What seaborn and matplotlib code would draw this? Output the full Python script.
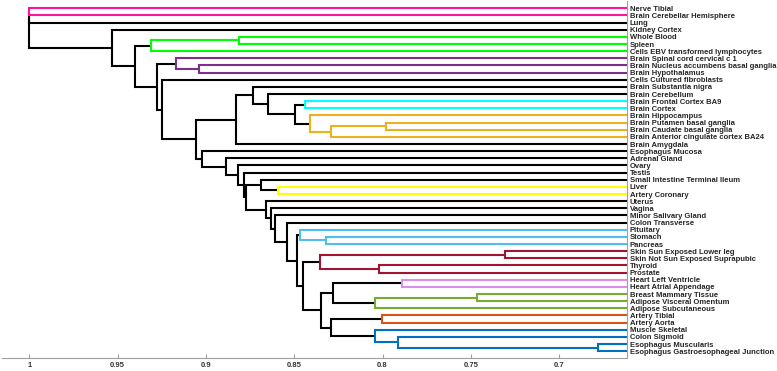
import matplotlib
matplotlib.use('Agg')
import matplotlib.pyplot as plt
import seaborn as sns

# ========== data ==========
leaves = [
    'Nerve Tibial', 'Brain Cerebellar Hemisphere', 'Lung', 'Kidney Cortex',
    'Whole Blood', 'Spleen', 'Cells EBV transformed lymphocytes',
    'Brain Spinal cord cervical c 1', 'Brain Nucleus accumbens basal ganglia',
    'Brain Hypothalamus', 'Cells Cultured fibroblasts', 'Brain Substantia nigra',
    'Brain Cerebellum', 'Brain Frontal Cortex BA9', 'Brain Cortex',
    'Brain Hippocampus', 'Brain Putamen basal ganglia', 'Brain Caudate basal ganglia',
    'Brain Anterior cingulate cortex BA24', 'Brain Amygdala', 'Esophagus Mucosa',
    'Adrenal Gland', 'Ovary', 'Testis', 'Small Intestine Terminal Ileum', 'Liver',
    'Artery Coronary', 'Uterus', 'Vagina', 'Minor Salivary Gland', 'Colon Transverse',
    'Pituitary', 'Stomach', 'Pancreas', 'Skin Sun Exposed Lower leg',
    'Skin Not Sun Exposed Suprapubic', 'Thyroid', 'Prostate', 'Heart Left Ventricle',
    'Heart Atrial Appendage', 'Breast Mammary Tissue', 'Adipose Visceral Omentum',
    'Adipose Subcutaneous', 'Artery Tibial', 'Artery Aorta', 'Muscle Skeletal',
    'Colon Sigmoid', 'Esophagus Muscularis', 'Esophagus Gastroesophageal Junction',
]

# merges: node name, two children, merge height
node_names = ['pink', 'n_a', 'root', 'r1', 'r2', 'green', 'g1', 'r3', 'purple', 'p1',
              'r4', 'r5', 'b1', 'b2', 'b3', 'b4', 'cyan', 'orange', 'o1', 'o2',
              'r6', 'r7', 'r8', 'r9', 'r10', 'y1', 'yellow', 'r11', 'r12', 'r13',
              'r14', 'r15', 'lblue', 'lb1', 'r16', 'crimson', 'cr1', 'cr2', 'r17',
              'r18', 'violet', 'lgreen', 'lg1', 'r19', 'orred', 'blue', 'bl1', 'bl2']
left_child = ['Nerve Tibial', 'pink', 'n_a', 'Kidney Cortex', 'green', 'g1', 'Whole Blood',
              'purple', 'Brain Spinal cord cervical c 1', 'Brain Nucleus accumbens basal ganglia',
              'Cells Cultured fibroblasts', 'b1', 'b2', 'Brain Substantia nigra',
              'Brain Cerebellum', 'cyan', 'Brain Frontal Cortex BA9', 'Brain Hippocampus',
              'o2', 'Brain Putamen basal ganglia', 'Esophagus Mucosa', 'Adrenal Gland',
              'Ovary', 'Testis', 'y1', 'Small Intestine Terminal Ileum', 'Liver', 'Uterus',
              'Vagina', 'Minor Salivary Gland', 'Colon Transverse', 'lblue', 'Pituitary',
              'Stomach', 'crimson', 'cr1', 'Skin Sun Exposed Lower leg', 'Thyroid', 'r18',
              'violet', 'Heart Left Ventricle', 'lg1', 'Breast Mammary Tissue', 'orred',
              'Artery Tibial', 'Muscle Skeletal', 'Colon Sigmoid', 'Esophagus Muscularis']
right_child = ['Brain Cerebellar Hemisphere', 'Lung', 'r1', 'r2', 'r3',
               'Cells EBV transformed lymphocytes', 'Spleen', 'r4', 'p1', 'Brain Hypothalamus',
               'r5', 'r6', 'Brain Amygdala', 'b3', 'b4', 'orange', 'Brain Cortex', 'o1',
               'Brain Anterior cingulate cortex BA24', 'Brain Caudate basal ganglia', 'r7',
               'r8', 'r9', 'r10', 'r11', 'yellow', 'Artery Coronary', 'r12', 'r13', 'r14',
               'r15', 'r16', 'lb1', 'Pancreas', 'r17', 'cr2', 'Skin Not Sun Exposed Suprapubic',
               'Prostate', 'r19', 'lgreen', 'Heart Atrial Appendage', 'Adipose Subcutaneous',
               'Adipose Visceral Omentum', 'blue', 'Artery Aorta', 'bl1', 'bl2',
               'Esophagus Gastroesophageal Junction']
merge_height = [1.000, 1.000, 1.000, 0.9532, 0.9401, 0.9311, 0.8813, 0.9277, 0.9169, 0.9039,
                0.9249, 0.9056, 0.8830, 0.8733, 0.8648, 0.8495, 0.8438, 0.8410, 0.8291, 0.7980,
                0.9022, 0.8886, 0.8818, 0.8784, 0.8773, 0.8688, 0.8592, 0.8660, 0.8631, 0.8609,
                0.8541, 0.8484, 0.8467, 0.8320, 0.8450, 0.8354, 0.7306, 0.8020, 0.8350,
                0.8282, 0.7891, 0.8043, 0.7465, 0.8293, 0.8003, 0.8043, 0.7913, 0.6780]
leaf_height = 0.6617

# ========== style ==========
cluster_colors = {
    'pink': '#ff14a0', 'green': '#00ff00', 'purple': '#7e2f8e', 'cyan': '#00ffff',
    'orange': '#edb120', 'yellow': '#ffff00', 'lblue': '#4dbeee', 'crimson': '#a2142f',
    'violet': '#dc8cf0', 'lgreen': '#77ac30', 'orred': '#d95319', 'blue': '#0072bd',
}

sns.set_theme(style='white')
plt.rcParams['font.family'] = ['Liberation Sans', 'DejaVu Sans']

children = {n: (l, r) for n, l, r in zip(node_names, left_child, right_child)}
heights = dict(zip(node_names, merge_height))
ypos = {}
for i, leaf in enumerate(leaves):
    ypos[leaf] = i + 1
    heights[leaf] = leaf_height


def get_y(node):
    if node not in ypos:
        l, r = children[node]
        ypos[node] = (get_y(l) + get_y(r)) / 2
    return ypos[node]


colors = {}


def set_color(node, col):
    if node in cluster_colors:
        col = cluster_colors[node]
    colors[node] = col
    if node in children:
        for c in children[node]:
            set_color(c, col)


set_color('root', 'black')
get_y('root')

fig = plt.figure(figsize=(7.77, 3.71), dpi=100)
ax = fig.add_axes([0.0026, 0.0342, 0.8040, 0.9626])

order = sorted(node_names, key=lambda n: colors[n] != 'black')
for n in order:
    l, r = children[n]
    h = heights[n]
    ax.plot([heights[l], h, h, heights[r]],
            [ypos[l], ypos[l], ypos[r], ypos[r]],
            color=colors[n], lw=1.5, solid_joinstyle='miter', solid_capstyle='butt',
            zorder=3 if colors[n] != 'black' else 2)

ax.set_xlim(1.0155, leaf_height)
ax.set_ylim(len(leaves) + 1, 0)

ax.set_xticks([1, 0.95, 0.9, 0.85, 0.8, 0.75, 0.7])
ax.set_xticklabels(['1', '0.95', '0.9', '0.85', '0.8', '0.75', '0.7'],
                   fontsize=5.5, fontweight='bold', color='#333333')
ax.tick_params(axis='x', direction='in', length=3, width=0.8, color='#a0a0a0', pad=3,
               bottom=True)

ax.yaxis.tick_right()
ax.set_yticks(range(1, len(leaves) + 1))
ax.set_yticklabels(leaves, fontsize=5.5, fontweight='bold', color='#262626')
ax.tick_params(axis='y', length=0, pad=2)

for side in ['top', 'left']:
    ax.spines[side].set_visible(False)
for side in ['bottom', 'right']:
    ax.spines[side].set_color('#a0a0a0')
    ax.spines[side].set_linewidth(0.8)

fig.savefig('out.png', dpi=100)
